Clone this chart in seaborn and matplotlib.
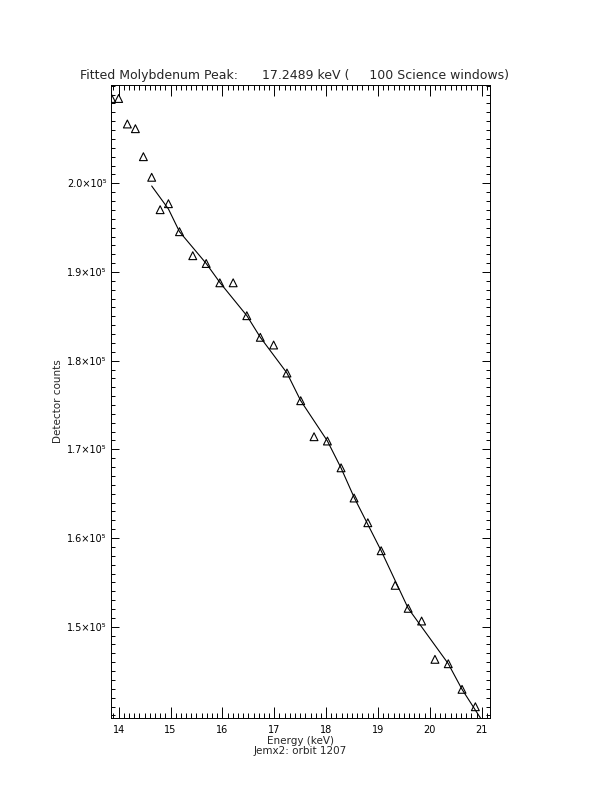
import pandas as pd
import matplotlib
matplotlib.use("Agg")
import matplotlib.pyplot as plt
from matplotlib.ticker import MultipleLocator, FixedLocator, FuncFormatter
import seaborn as sns

# measured points (Energy keV, detector counts)
energy = [13.865, 14.000, 14.168, 14.323, 14.477, 14.637, 14.800, 14.960,
          15.173, 15.429, 15.688, 15.951, 16.208, 16.471, 16.731, 16.988,
          17.245, 17.510, 17.767, 18.025, 18.288, 18.539, 18.804, 19.061,
          19.331, 19.582, 19.841, 20.098, 20.355, 20.620, 20.877]
counts = [209563, 209563, 206687, 206157, 203000, 200677, 197023, 197700,
          194542, 191836, 190956, 188780, 188780, 185070, 182634, 181766,
          178608, 175485, 171425, 170940, 167918, 164513, 161727, 158570,
          154668, 152075, 150643, 146324, 145828, 142941, 140979]

# fitted curve
fit_energy = [14.637, 14.960, 15.173, 15.688, 15.959, 16.472, 16.731, 17.245,
              17.510, 18.025, 18.288, 18.539, 19.061, 19.582, 20.355, 20.620,
              21.000]
fit_counts = [199696, 197102, 194542, 190956, 188757, 185070, 182634, 178608,
              175485, 170940, 167895, 164591, 158570, 152075, 145828, 142941,
              139480]

y_major = [150000, 160000, 170000, 180000, 190000, 200000]

df = pd.DataFrame({"Energy": energy, "Counts": counts})
fit = pd.DataFrame({"Energy": fit_energy, "Counts": fit_counts})

sns.set_style("ticks")
plt.rcParams["font.family"] = ["DejaVu Sans"]

fig = plt.figure(figsize=(6.12, 7.92), dpi=100)
ax = fig.add_axes([0.1814, 0.0934, 0.6193, 0.7993])

sns.lineplot(x="Energy", y="Counts", data=fit, sort=False, estimator=None,
             color="black", linewidth=0.8, ax=ax)
sns.scatterplot(x="Energy", y="Counts", data=df, marker="^", s=32,
                facecolors="none", edgecolor="black", linewidth=0.8, ax=ax)

ax.set_xlim(13.853, 21.16)
ax.set_ylim(139705, 211085)

ax.xaxis.set_major_locator(MultipleLocator(1))
ax.xaxis.set_minor_locator(MultipleLocator(0.1))
ax.yaxis.set_major_locator(FixedLocator(y_major))
ax.yaxis.set_minor_locator(MultipleLocator(1000))
ax.yaxis.set_major_formatter(FuncFormatter(lambda v, p: f"{v/1e5:.1f}×10⁵"))

ax.tick_params(axis="both", which="both", direction="in", top=True, right=True,
               colors="black", labelsize=7, width=0.7)
ax.tick_params(axis="x", which="major", length=8, pad=5)
ax.tick_params(axis="x", which="minor", length=3.8)
ax.tick_params(axis="y", which="major", length=5.8, pad=3)
ax.tick_params(axis="y", which="minor", length=2.9)
for sp in ax.spines.values():
    sp.set_linewidth(0.7)
    sp.set_color("black")

ax.set_xlabel("Energy (keV)\nJemx2: orbit 1207", fontsize=7.5, labelpad=1,
              linespacing=0.9)
ax.set_ylabel("Detector counts", fontsize=7.5, labelpad=3)

fig.text(0.131, 0.897, "Fitted Molybdenum Peak:      17.2489 keV (     100 Science windows)",
         fontsize=9, ha="left", va="bottom")

fig.savefig("out.png", dpi=100, facecolor="white")
